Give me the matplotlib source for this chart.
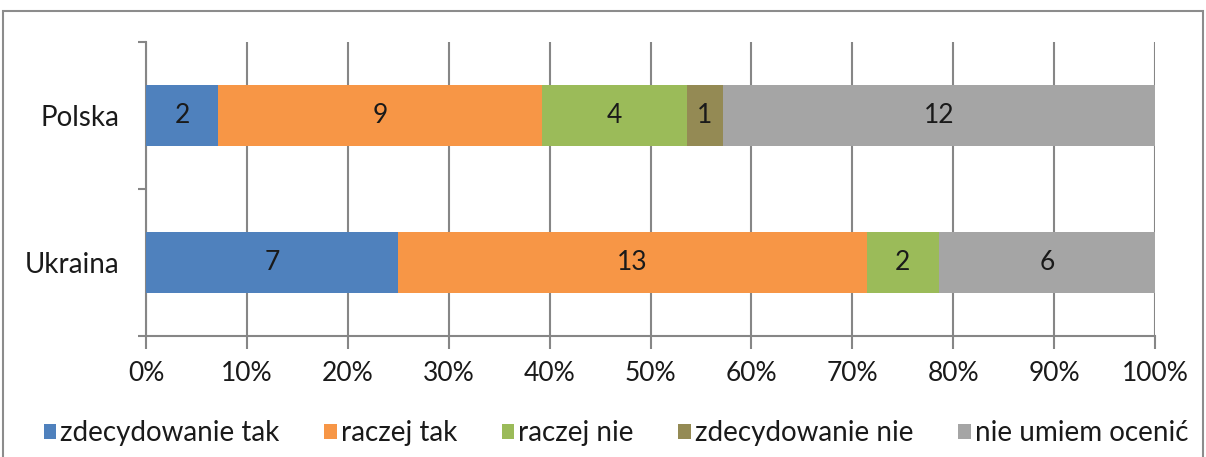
import matplotlib.pyplot as plt
from matplotlib.patches import Rectangle
import numpy as np

plt.rcParams['font.family'] = ['Lato', 'DejaVu Sans']

countries = ["Polska", "Ukraina"]
answers = ["zdecydowanie tak", "raczej tak", "raczej nie", "zdecydowanie nie", "nie umiem ocenić"]
counts = {
    "zdecydowanie tak": [2, 7],
    "raczej tak": [9, 13],
    "raczej nie": [4, 2],
    "zdecydowanie nie": [1, 0],
    "nie umiem ocenić": [12, 6],
}
colors = ["#4f81bd", "#f79646", "#9bbb59", "#948a54", "#a5a5a5"]

totals = np.sum([counts[a] for a in answers], axis=0)

fig = plt.figure(figsize=(12.06, 4.57), dpi=100)
ax = fig.add_axes([146 / 1206, 1 - 336 / 457, 1009 / 1206, 294 / 457])

# outer chart frame
fig.patches.append(Rectangle((3 / 1206, -0.05), 1200 / 1206, 1 - 11 / 457 + 0.05,
                             transform=fig.transFigure, fill=False,
                             edgecolor="#8c8c8c", linewidth=1.5))

ypos = np.arange(len(countries))
left = np.zeros(len(countries))
for ans, col in zip(answers, colors):
    vals = np.array(counts[ans], dtype=float)
    share = vals / totals
    ax.barh(ypos, share, left=left, height=0.41, color=col, label=ans, zorder=3)
    for y, v, l, s in zip(ypos, vals, left, share):
        if v > 0:
            ax.text(l + s / 2, y, f"{int(v)}", ha="center", va="center",
                    fontsize=19, color="#1a1a1a", zorder=4)
    left += share

ax.set_xlim(0, 1)
ax.set_ylim(1.5, -0.5)
ax.set_xticks(np.arange(0, 1.01, 0.1))
ax.set_xticklabels([f"{int(round(t * 100))}%" for t in np.arange(0, 1.01, 0.1)])
ax.set_yticks(ypos)
ax.set_yticklabels(countries)
ax.set_yticks([-0.5, 0.5, 1.5], minor=True)
ax.tick_params(axis="y", which="major", length=0, pad=19, labelsize=20, labelcolor="#1a1a1a")
ax.tick_params(axis="y", which="minor", length=6, width=1.5, color="#868686", direction="out")
ax.tick_params(axis="x", length=9, width=1.5, color="#868686", pad=9, labelsize=19, labelcolor="#1a1a1a")

ax.grid(axis="x", color="#868686", linewidth=1.5, zorder=0)
for side in ["top", "right"]:
    ax.spines[side].set_visible(False)
for side in ["left", "bottom"]:
    ax.spines[side].set_color("#868686")
    ax.spines[side].set_linewidth(1.5)

fig.legend(loc="center", bbox_to_anchor=(616 / 1206, 1 - 433 / 457), ncol=5, frameon=False,
           fontsize=20, handlelength=0.45, handleheight=0.45, handletextpad=0.15,
           columnspacing=1.6, labelcolor="#1a1a1a")

fig.savefig("out.png", dpi=100)
